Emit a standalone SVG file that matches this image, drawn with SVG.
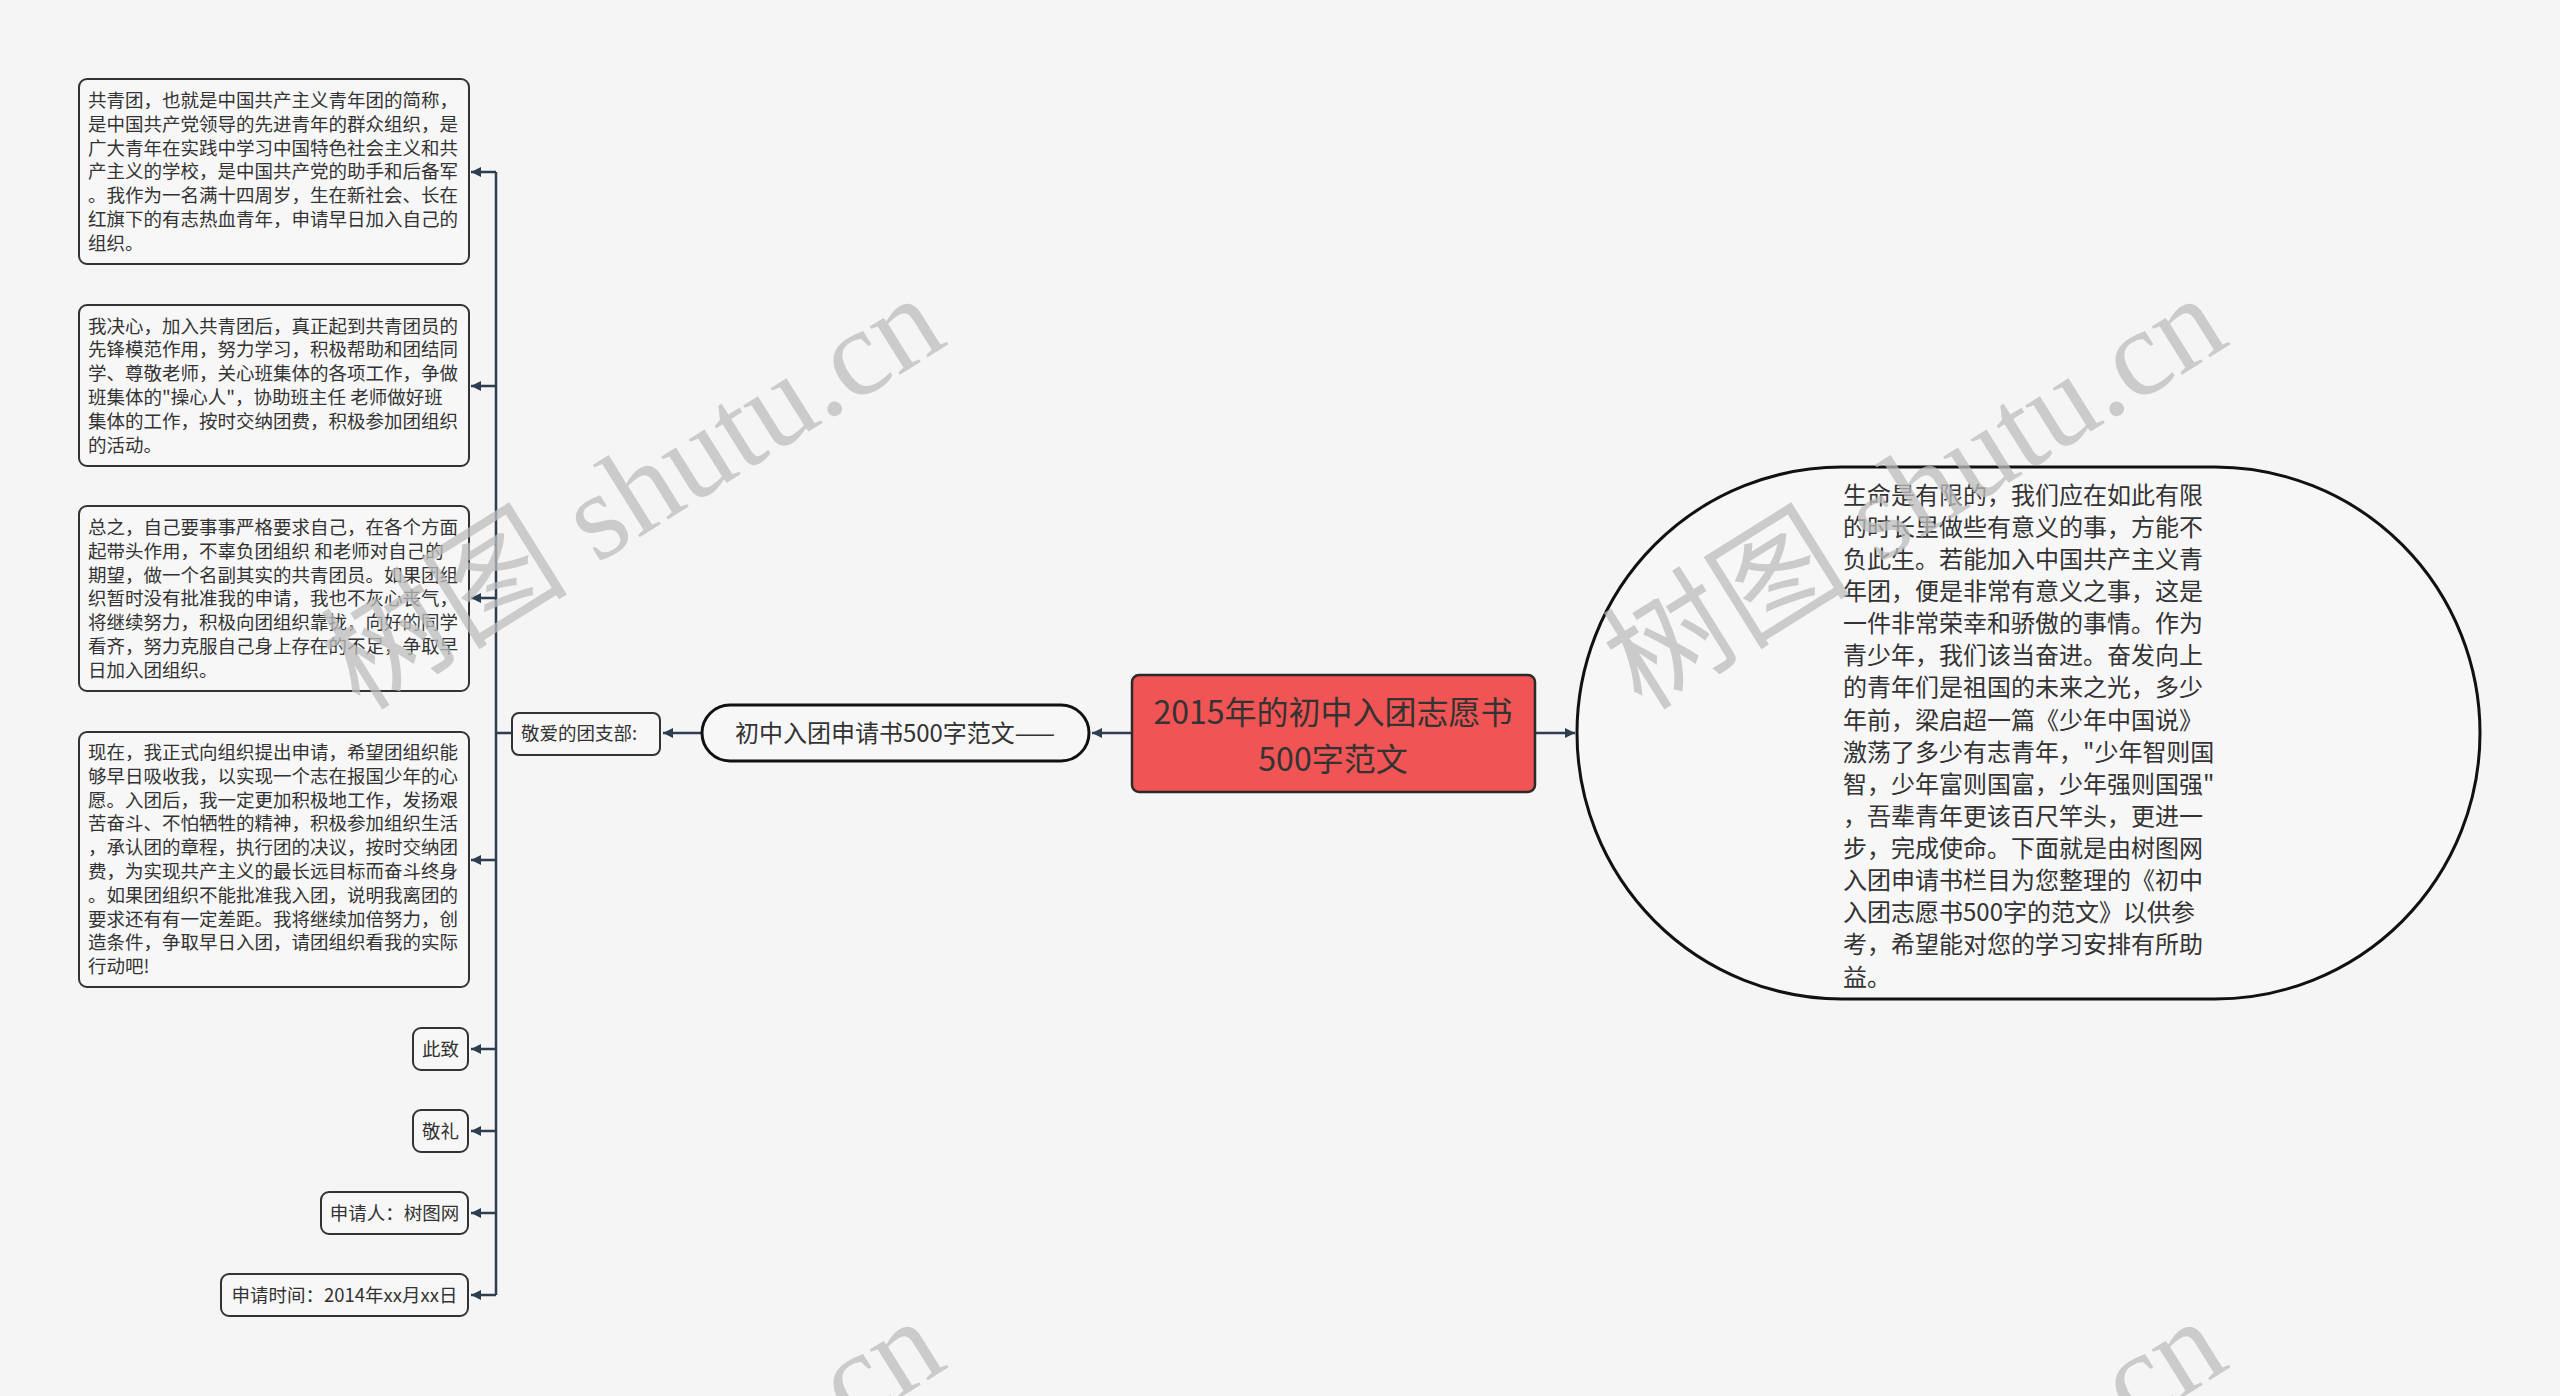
<svg xmlns="http://www.w3.org/2000/svg" width="2560" height="1396" viewBox="0 0 2560 1396">
<style>
text{font-family:"Noto Sans CJK SC","Noto Sans",sans-serif;fill:#333}
.box{fill:#f7f7f7;stroke:#333;stroke-width:2}
.t{font-size:18.5px}
.big{font-size:24px}
.conn{fill:none;stroke:#2c3e50;stroke-width:2.5}
.wm{font-family:"Liberation Serif","Noto Sans CJK SC",serif;font-size:124px;fill:#bdbdbd;opacity:0.75}
</style>
<defs>
<marker id="ah" markerUnits="userSpaceOnUse" markerWidth="12" markerHeight="10" refX="10" refY="5" orient="auto">
<path d="M0,0 L10,5 L0,10 z" fill="#2c3e50"/>
</marker>
</defs>
<rect width="2560" height="1396" fill="#f5f5f5"/>
<g id="connectors">
<path class="conn" d="M496,172 V1295"/>
<path class="conn" d="M512,733 H496"/>
<path class="conn" d="M496,172 H471" marker-end="url(#ah)"/>
<path class="conn" d="M496,386 H471" marker-end="url(#ah)"/>
<path class="conn" d="M496,598 H471" marker-end="url(#ah)"/>
<path class="conn" d="M496,860 H471" marker-end="url(#ah)"/>
<path class="conn" d="M496,1049 H471" marker-end="url(#ah)"/>
<path class="conn" d="M496,1131 H471" marker-end="url(#ah)"/>
<path class="conn" d="M496,1213 H471" marker-end="url(#ah)"/>
<path class="conn" d="M496,1295 H471" marker-end="url(#ah)"/>
<path class="conn" d="M702,733 H663" marker-end="url(#ah)"/>
<path class="conn" d="M1131,733 H1092" marker-end="url(#ah)"/>
<path class="conn" d="M1535,733 H1575" marker-end="url(#ah)"/>
</g>
<g id="root">
<rect x="1132" y="675" width="403" height="117" rx="7" fill="#f05454" stroke="#2a2a2a" stroke-width="2.5"/>
<text x="1333" y="724" font-size="32" text-anchor="middle">2015年的初中入团志愿书</text>
<text x="1333" y="771" font-size="32" text-anchor="middle">500字范文</text>
</g>
<g id="summary">
<rect x="1577" y="467" width="903" height="532" rx="265" ry="266" fill="#f7f7f7" stroke="#111" stroke-width="3"/>
<g class="big">
<text x="1843" y="504">生命是有限的，我们应在如此有限</text>
<text x="1843" y="536">的时长里做些有意义的事，方能不</text>
<text x="1843" y="568">负此生。若能加入中国共产主义青</text>
<text x="1843" y="600">年团，便是非常有意义之事，这是</text>
<text x="1843" y="632">一件非常荣幸和骄傲的事情。作为</text>
<text x="1843" y="664">青少年，我们该当奋进。奋发向上</text>
<text x="1843" y="696">的青年们是祖国的未来之光，多少</text>
<text x="1843" y="729">年前，梁启超一篇《少年中国说》</text>
<text x="1843" y="761">激荡了多少有志青年，"少年智则国</text>
<text x="1843" y="793">智，少年富则国富，少年强则国强"</text>
<text x="1843" y="825">，吾辈青年更该百尺竿头，更进一</text>
<text x="1843" y="857">步，完成使命。下面就是由树图网</text>
<text x="1843" y="889">入团申请书栏目为您整理的《初中</text>
<text x="1843" y="921">入团志愿书500字的范文》以供参</text>
<text x="1843" y="953">考，希望能对您的学习安排有所助</text>
<text x="1843" y="986">益。</text>
</g>
</g>
<g id="sub">
<rect x="702" y="705" width="387" height="56" rx="28" fill="#f7f7f7" stroke="#111" stroke-width="3"/>
<text x="895" y="742" class="big" text-anchor="middle">初中入团申请书500字范文——</text>
</g>
<g id="salutation">
<rect class="box" x="512" y="713" width="148" height="42" rx="7"/>
<text class="t" x="521" y="740">敬爱的团支部:</text>
</g>
<g id="p1">
<rect class="box" x="79" y="79" width="390" height="185" rx="8"/>
<g class="t">
<text x="88" y="107">共青团，也就是中国共产主义青年团的简称，</text>
<text x="88" y="130.8">是中国共产党领导的先进青年的群众组织，是</text>
<text x="88" y="154.6">广大青年在实践中学习中国特色社会主义和共</text>
<text x="88" y="178.4">产主义的学校，是中国共产党的助手和后备军</text>
<text x="88" y="202.2">。我作为一名满十四周岁，生在新社会、长在</text>
<text x="88" y="226">红旗下的有志热血青年，申请早日加入自己的</text>
<text x="88" y="249.8">组织。</text>
</g>
</g>
<g id="p2">
<rect class="box" x="79" y="305" width="390" height="161" rx="8"/>
<g class="t">
<text x="88" y="332.5">我决心，加入共青团后，真正起到共青团员的</text>
<text x="88" y="356.3">先锋模范作用，努力学习，积极帮助和团结同</text>
<text x="88" y="380.1">学、尊敬老师，关心班集体的各项工作，争做</text>
<text x="88" y="403.9">班集体的"操心人"，协助班主任 老师做好班</text>
<text x="88" y="427.7">集体的工作，按时交纳团费，积极参加团组织</text>
<text x="88" y="451.5">的活动。</text>
</g>
</g>
<g id="p3">
<rect class="box" x="79" y="506" width="390" height="185" rx="8"/>
<g class="t">
<text x="88" y="534">总之，自己要事事严格要求自己，在各个方面</text>
<text x="88" y="557.8">起带头作用，不辜负团组织 和老师对自己的</text>
<text x="88" y="581.6">期望，做一个名副其实的共青团员。如果团组</text>
<text x="88" y="605.4">织暂时没有批准我的申请，我也不灰心丧气，</text>
<text x="88" y="629.2">将继续努力，积极向团组织靠拢，向好的同学</text>
<text x="88" y="653">看齐，努力克服自己身上存在的不足，争取早</text>
<text x="88" y="676.8">日加入团组织。</text>
</g>
</g>
<g id="p4">
<rect class="box" x="79" y="732" width="390" height="255" rx="8"/>
<g class="t">
<text x="88" y="759">现在，我正式向组织提出申请，希望团组织能</text>
<text x="88" y="782.8">够早日吸收我，以实现一个志在报国少年的心</text>
<text x="88" y="806.6">愿。入团后，我一定更加积极地工作，发扬艰</text>
<text x="88" y="830.4">苦奋斗、不怕牺牲的精神，积极参加组织生活</text>
<text x="88" y="854.2">，承认团的章程，执行团的决议，按时交纳团</text>
<text x="88" y="878">费，为实现共产主义的最长远目标而奋斗终身</text>
<text x="88" y="901.8">。如果团组织不能批准我入团，说明我离团的</text>
<text x="88" y="925.6">要求还有有一定差距。我将继续加倍努力，创</text>
<text x="88" y="949.4">造条件，争取早日入团，请团组织看我的实际</text>
<text x="88" y="973.2">行动吧!</text>
</g>
</g>
<g id="n5">
<rect class="box" x="413" y="1028" width="55" height="42" rx="8"/>
<text class="t" x="440.5" y="1055.5" text-anchor="middle">此致</text>
</g>
<g id="n6">
<rect class="box" x="413" y="1110" width="55" height="42" rx="8"/>
<text class="t" x="440.5" y="1137.5" text-anchor="middle">敬礼</text>
</g>
<g id="n7">
<rect class="box" x="321" y="1192" width="147" height="42" rx="8"/>
<text class="t" x="394.5" y="1219.5" text-anchor="middle">申请人：树图网</text>
</g>
<g id="n8">
<rect class="box" x="221" y="1274" width="247" height="42" rx="8"/>
<text class="t" x="344.5" y="1301.5" text-anchor="middle">申请时间：2014年xx月xx日</text>
</g>
<g id="watermark">
<text class="wm" transform="translate(360,712) rotate(-32)">树图 shutu.cn</text>
<text class="wm" transform="translate(1642,712) rotate(-32)">树图 shutu.cn</text>
<text class="wm" transform="translate(360,1735) rotate(-32)">树图 shutu.cn</text>
<text class="wm" transform="translate(1642,1735) rotate(-32)">树图 shutu.cn</text>
</g>
</svg>
